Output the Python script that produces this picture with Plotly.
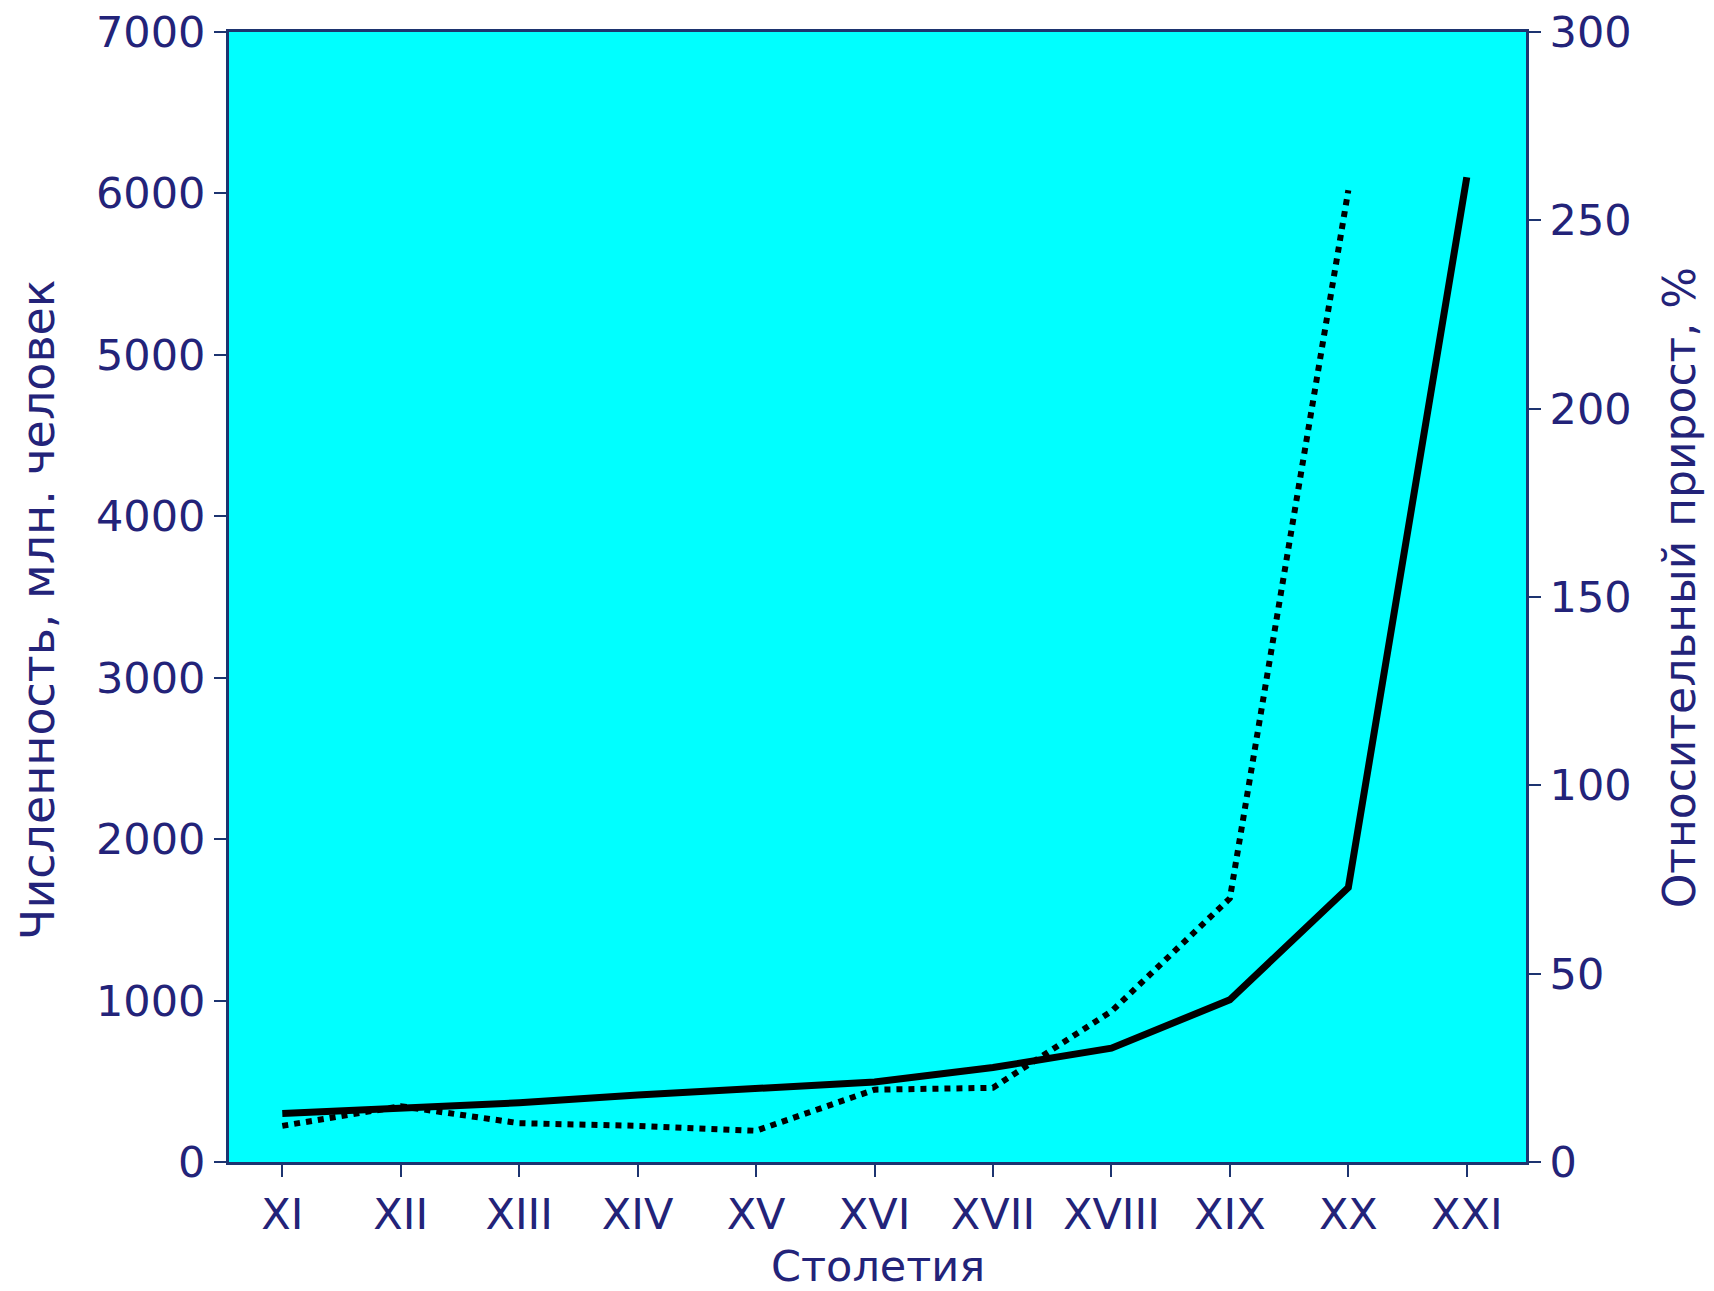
import plotly.graph_objects as go

centuries = ["XI", "XII", "XIII", "XIV", "XV", "XVI", "XVII", "XVIII", "XIX", "XX", "XXI"]
population = [300, 337, 367, 415, 455, 495, 585, 705, 1005, 1700, 6100]
growth_centuries = ["XI", "XII", "XIII", "XIV", "XV", "XVI", "XVII", "XVIII", "XIX", "XX"]
growth_pct = [9.6, 14.8, 10.3, 9.6, 8.3, 19.2, 19.7, 40, 70, 258]

left_ticks = [0, 1000, 2000, 3000, 4000, 5000, 6000, 7000]
right_ticks = [0, 50, 100, 150, 200, 250, 300]

x_title = "Столетия"
left_title = "Численность, млн. человек"
right_title = "Относительный прирост, %"

navy = "#232379"
axis_col = "#1d3470"
font_family = "DejaVu Sans, Verdana, sans-serif"
fs = 43

fig = go.Figure()
fig.add_trace(go.Scatter(x=centuries, y=population, mode="lines",
                         line=dict(color="black", width=7), yaxis="y", showlegend=False))
fig.add_trace(go.Scatter(x=growth_centuries, y=growth_pct, mode="lines",
                         line=dict(color="black", width=6, dash="6px,6px"), yaxis="y2", showlegend=False))

axis_common = dict(showgrid=False, zeroline=False, showline=True, linecolor=axis_col, linewidth=3,
                   ticks="outside", ticklen=12, tickwidth=2, tickcolor=axis_col,
                   ticklabeloverflow="allow", automargin=False,
                   tickfont=dict(size=fs, color=navy, family=font_family))

fig.update_layout(
    width=1714, height=1291,
    margin=dict(l=221, r=196, t=24, b=137, autoexpand=False),
    paper_bgcolor="white", plot_bgcolor="#00FFFF",
    font=dict(family=font_family, size=fs, color=navy),
    xaxis=dict(type="category", categoryorder="array", categoryarray=centuries,
               range=[-0.45, 10.5], mirror=True, **axis_common),
    yaxis=dict(range=[0, 7000], tickvals=left_ticks, **axis_common),
    yaxis2=dict(range=[0, 300], tickvals=right_ticks, overlaying="y", side="right", **axis_common),
    annotations=[
        dict(text=x_title, xref="paper", yref="paper", x=0.5, y=-0.092, showarrow=False,
             xanchor="center", yanchor="middle", font=dict(size=fs, color=navy)),
        dict(text=left_title, xref="paper", yref="paper", x=-0.1467, y=0.489, showarrow=False,
             textangle=-90, xanchor="center", yanchor="middle", font=dict(size=46, color=navy)),
        dict(text=right_title, xref="paper", yref="paper", x=1.119, y=0.508, showarrow=False,
             textangle=-90, xanchor="center", yanchor="middle", font=dict(size=44, color=navy)),
    ],
)

fig.write_html("out.html")
